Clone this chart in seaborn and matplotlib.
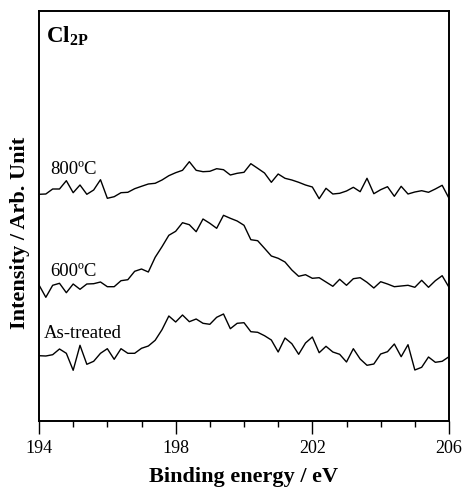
import numpy as np
import pandas as pd
import seaborn as sns
from matplotlib import pyplot as plt

# binding energy grid (eV), 0.2 eV steps
energy = np.linspace(194, 206, 61)

# intensities (arbitrary units)
as_treated = [65.3, 65.0, 66.3, 72.0, 67.7, 50.7, 75.7, 56.7, 59.7, 67.7,
              72.3, 61.7, 72.3, 67.7, 67.7, 72.7, 75.0, 80.7, 91.3, 105.0,
              99.0, 106.0, 99.3, 102.0, 97.7, 96.7, 103.7, 107.0, 92.3, 97.7,
              98.3, 89.3, 88.7, 85.3, 81.0, 69.0, 83.0, 77.3, 66.7, 78.0,
              84.0, 68.3, 74.7, 69.0, 66.7, 59.0, 72.3, 62.0, 55.7, 57.0,
              67.0, 69.3, 77.0, 64.3, 76.3, 51.0, 53.7, 64.0, 58.7, 59.7,
              64.3]
t600 = [136.0, 123.7, 135.7, 137.7, 128.3, 137.0, 131.7, 137.0, 137.3, 139.0,
        134.3, 134.3, 140.3, 141.3, 149.7, 152.0, 149.0, 163.7, 174.3, 185.7,
        189.7, 198.3, 196.3, 189.3, 202.0, 197.7, 192.7, 205.7, 202.7, 200.0,
        195.7, 181.3, 180.3, 172.7, 165.0, 162.7, 159.0, 151.0, 144.7, 146.3,
        142.7, 143.3, 139.0, 134.7, 141.7, 135.7, 142.3, 143.3, 138.7, 133.0,
        139.3, 137.0, 134.3, 135.0, 135.7, 133.7, 140.7, 133.7, 140.3, 145.3,
        133.7]
t800 = [226.7, 227.0, 232.0, 232.0, 240.3, 228.3, 236.0, 226.7, 231.0, 241.3,
        222.7, 224.3, 228.3, 228.7, 232.3, 234.7, 237.0, 237.7, 241.0, 245.3,
        248.3, 250.7, 259.3, 250.7, 249.3, 249.7, 252.3, 251.3, 246.0, 247.7,
        248.7, 257.3, 252.7, 248.0, 238.7, 247.0, 242.7, 241.0, 238.7, 236.0,
        234.0, 222.3, 232.7, 227.0, 227.7, 230.0, 233.7, 229.3, 242.7, 227.3,
        231.3, 234.3, 224.7, 234.7, 227.0, 229.0, 230.3, 228.7, 232.0, 235.7,
        222.7]
series_names = ['As-treated', '600ºC', '800ºC']

df = pd.concat([
    pd.DataFrame({'energy': energy, 'intensity': vals, 'sample': name})
    for name, vals in zip(series_names, [as_treated, t600, t800])
])

sns.set_style('ticks')
plt.rcParams['font.family'] = ['Liberation Serif', 'DejaVu Serif']
plt.rcParams['text.color'] = 'black'
plt.rcParams['axes.labelcolor'] = 'black'
plt.rcParams['mathtext.fontset'] = 'custom'
plt.rcParams['mathtext.rm'] = 'Liberation Serif'
plt.rcParams['mathtext.bf'] = 'Liberation Serif:bold'

fig = plt.figure(figsize=(4.62, 4.92), dpi=100)
ax = fig.add_axes([39 / 462, 1 - 421 / 492, 410 / 462, 410 / 492])

sns.lineplot(data=df, x='energy', y='intensity', hue='sample',
             palette={n: 'black' for n in series_names}, legend=False,
             sort=False, linewidth=1.0, ax=ax)

ax.set_xlim(194, 206)
ax.set_ylim(0, 410)
ax.set_xticks([194, 198, 202, 206])
ax.set_xticks(np.arange(194, 207, 1), minor=True)
ax.set_yticks([])
ax.tick_params(axis='x', which='major', direction='out', length=9, width=1,
               labelsize=13, pad=5, color='black', labelcolor='black')
ax.tick_params(axis='x', which='minor', direction='out', length=4.5, width=1,
               color='black')
for s in ax.spines.values():
    s.set_visible(True)
    s.set_linewidth(1.4)
    s.set_color('black')

ax.set_xlabel('Binding energy / eV', fontsize=16, fontweight='bold')
ax.xaxis.set_label_coords(0.5, -0.112)
ax.set_ylabel('Intensity / Arb. Unit', fontsize=16, fontweight='bold')
ax.yaxis.set_label_coords(-0.022, 0.46)

# curve labels
ax.text(194.32, 252, '800ºC', fontsize=13.5, va='center', ha='left')
ax.text(194.32, 150, '600ºC', fontsize=13.5, va='center', ha='left')
ax.text(194.15, 88, 'As-treated', fontsize=13.5, va='center', ha='left')
ax.text(194.2, 385, r'$\mathbf{Cl_{2P}}$', fontsize=16.5, va='center', ha='left')

fig.savefig('out.png', dpi=100)
